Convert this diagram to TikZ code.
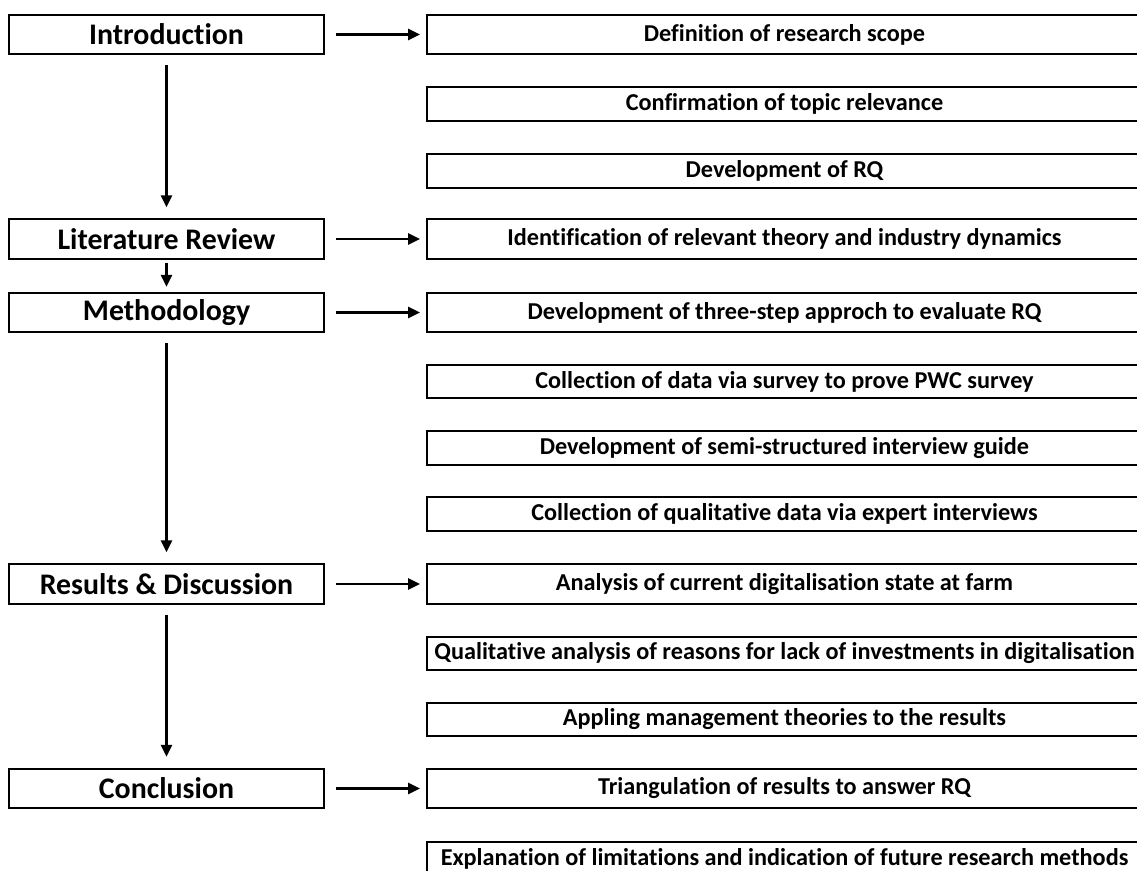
\documentclass[tikz,border=0pt]{standalone}
\usepackage{fontspec}
\setmainfont{Carlito}[Ligatures=CommonOff]
\usetikzlibrary{arrows.meta,positioning}

\begin{document}
\begin{tikzpicture}[>={Triangle[length=0.24cm,width=0.22cm]},line width=1.1pt,
  phase/.style={draw,minimum width=6.3cm,minimum height=0.79cm,font=\fontsize{17}{20}\selectfont\bfseries},
  task/.style={draw,minimum width=14.3cm,minimum height=0.67cm,font=\fontsize{13.8}{16}\selectfont\bfseries},
  taskmain/.style={task,minimum height=0.79cm},
  down/.style={->,line width=1.4pt,shorten <=0.2cm,shorten >=0.22cm},
  side/.style={->,line width=1.4pt,shorten <=0.22cm,shorten >=0.12cm}]
\useasboundingbox (0,0) rectangle (22.74,-17.4);
\clip (0,0) rectangle (22.74,-17.4);
% phases on the left
\node[phase] (intro) at (3.33,-0.69) {Introduction};
\node[phase] (lit) at (3.33,-4.78) {Literature Review};
\node[phase] (meth) at (3.33,-6.25) {Methodology};
\node[phase] (res) at (3.33,-11.68) {Results \& Discussion};
\node[phase] (concl) at (3.33,-15.77) {Conclusion};
% tasks on the right
\node[taskmain] (scope) at (15.69,-0.69) {Definition of research scope};
\node[task] (relev) at (15.69,-2.08) {Confirmation of topic relevance};
\node[task] (rq) at (15.69,-3.42) {Development of RQ};
\node[taskmain] (theory) at (15.69,-4.78) {Identification of relevant theory and industry dynamics};
\node[taskmain] (approach) at (15.69,-6.25) {Development of three-step approch to evaluate RQ};
\node[task] (survey) at (15.69,-7.63) {Collection of data via survey to prove PWC survey};
\node[task] (guide) at (15.69,-8.96) {Development of semi-structured interview guide};
\node[task] (interv) at (15.69,-10.28) {Collection of qualitative data via expert interviews};
\node[taskmain] (state) at (15.69,-11.68) {Analysis of current digitalisation state at farm};
\node[task] (reasons) at (15.69,-13.07) {Qualitative analysis of reasons for lack of investments in digitalisation};
\node[task] (mgmt) at (15.69,-14.39) {Appling management theories to the results};
\node[taskmain] (triang) at (15.69,-15.77) {Triangulation of results to answer RQ};
\node[task] (limits) at (15.69,-17.17) {Explanation of limitations and indication of future research methods};
% arrows
\draw[down] (intro) -- (lit);
\draw[->,line width=1.4pt,shorten <=0.06cm,shorten >=0.1cm] (lit) -- (meth);
\draw[down] (meth) -- (res);
\draw[down] (res) -- (concl);
\draw[side] (intro) -- (scope);
\draw[side] (lit) -- (theory);
\draw[side] (meth) -- (approach);
\draw[side] (res) -- (state);
\draw[side] (concl) -- (triang);
\end{tikzpicture}
\end{document}
